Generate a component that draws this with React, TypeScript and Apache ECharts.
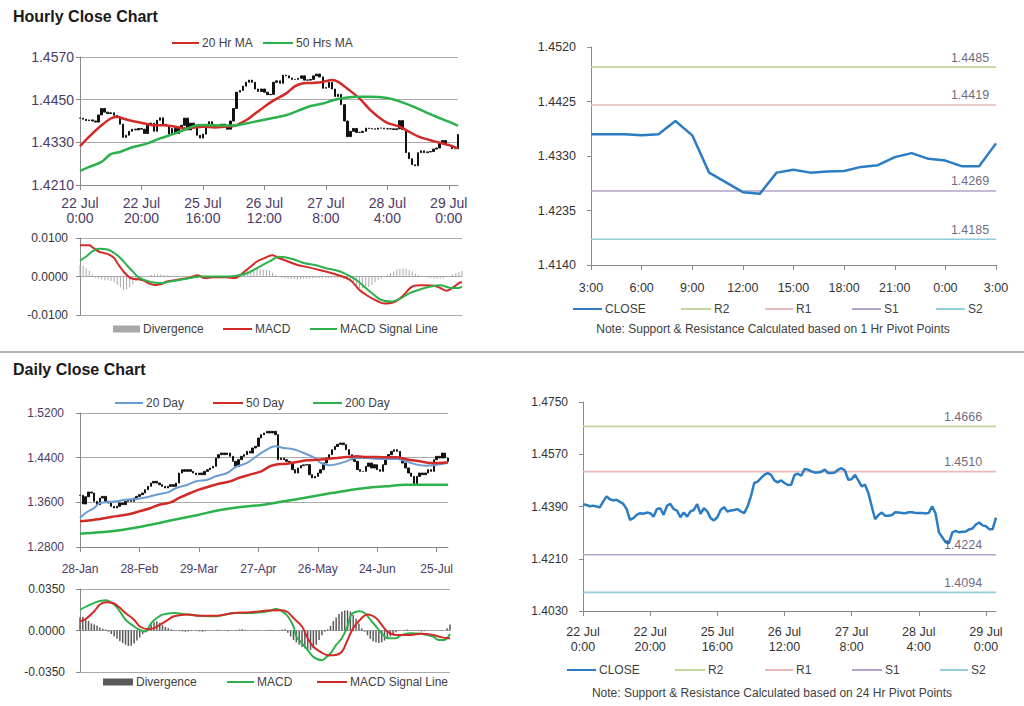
import React, { useEffect, useRef } from "react";
import * as echarts from "echarts";

const FONT = "'Liberation Sans', Arial, sans-serif";

// ---------------- Hourly data (22 Jul 0:00 .. 29 Jul 3:00, trading hours) ----------------
const hourlyTickLabels = ["22 Jul\n0:00", "22 Jul\n20:00", "25 Jul\n16:00", "26 Jul\n12:00", "27 Jul\n8:00", "28 Jul\n4:00", "29 Jul\n0:00"];
const hourlyTickStep = 20;

const hourlyClose = [
  1.4398, 1.4395, 1.4391, 1.4393, 1.4390, 1.4387, 1.4407, 1.4425, 1.4415, 1.4411,
  1.4413, 1.4406, 1.4399, 1.4381, 1.4344, 1.4350, 1.4361, 1.4367, 1.4365, 1.4369,
  1.4367, 1.4355, 1.4381, 1.4384, 1.4361, 1.4392, 1.4399, 1.4381, 1.4376, 1.4353,
  1.4369, 1.4355, 1.4373, 1.4378, 1.4398, 1.4365, 1.4384, 1.4373, 1.4350, 1.4342,
  1.4353, 1.4378, 1.4388, 1.4373, 1.4376, 1.4378, 1.4381, 1.4373, 1.4367, 1.4390,
  1.4425, 1.4471, 1.4476, 1.4488, 1.4499, 1.4505, 1.4499, 1.4480, 1.4473, 1.4480,
  1.4471, 1.4464, 1.4465, 1.4499, 1.4503, 1.4496, 1.4519, 1.4517, 1.4511, 1.4507,
  1.4507, 1.4510, 1.4517, 1.4505, 1.4505, 1.4507, 1.4517, 1.4522, 1.4514, 1.4482,
  1.4484, 1.4499, 1.4480, 1.4459, 1.4465, 1.4436, 1.4390, 1.4346, 1.4361, 1.4369,
  1.4358, 1.4358, 1.4361, 1.4370, 1.4369, 1.4368, 1.4367, 1.4370, 1.4370, 1.4368,
  1.4368, 1.4368, 1.4366, 1.4368, 1.4391, 1.4366, 1.4301, 1.4284, 1.4267, 1.4264,
  1.4301, 1.4306, 1.4301, 1.4303, 1.4304, 1.4311, 1.4314, 1.4328, 1.4335, 1.4325,
  1.4322, 1.4312, 1.4312, 1.4352,
];

const hourlyMA20 = [
  [0, 1.4319], [3, 1.4346], [7, 1.4378], [10, 1.4397], [12, 1.4402], [14, 1.4397], [17, 1.4390], [21, 1.4383],
  [24, 1.4378], [27, 1.4378], [31, 1.4374], [34, 1.4369], [37, 1.4372], [40, 1.4374], [44, 1.4372], [47, 1.4374],
  [50, 1.4376], [54, 1.4392], [57, 1.4411], [60, 1.4430], [63, 1.4448], [67, 1.4467], [70, 1.4488], [72, 1.4495],
  [75, 1.4497], [79, 1.4500], [82, 1.4505], [84, 1.4500], [87, 1.4481], [91, 1.4453], [94, 1.4425], [97, 1.4402],
  [100, 1.4385], [104, 1.4374], [107, 1.4360], [110, 1.4347], [114, 1.4336], [117, 1.4329], [120, 1.4322], [123, 1.4313],
];
const hourlyMA50 = [
  [0, 1.4250], [3, 1.4261], [7, 1.4275], [10, 1.4297], [13, 1.4303], [17, 1.4316], [22, 1.4327], [26, 1.4341],
  [31, 1.4355], [35, 1.4369], [38, 1.4378], [41, 1.4379], [46, 1.4377], [50, 1.4377], [54, 1.4383], [58, 1.4390],
  [62, 1.4397], [67, 1.4406], [71, 1.4419], [75, 1.4432], [79, 1.4439], [83, 1.4450], [87, 1.4456], [90, 1.4458],
  [94, 1.4458], [100, 1.4455], [103, 1.4448], [106, 1.4439], [110, 1.4425], [113, 1.4413], [116, 1.4402], [120, 1.4388], [123, 1.4376],
];
const hourlyMacd = [
  [0, 0.0081], [3, 0.0081], [4, 0.0076], [6, 0.0065], [9, 0.0058], [11, 0.0048], [12, 0.0035], [14, 0.0013],
  [16, -0.0003], [17, -0.0006], [20, -0.0009], [22, -0.0017], [24, -0.0022], [26, -0.0020], [28, -0.0013], [31, -0.0009],
  [35, -0.0004], [38, 0.0003], [40, -0.0004], [43, -0.0002], [47, -0.0002], [50, -0.0004], [51, 0.0000], [53, 0.0013],
  [55, 0.0026], [57, 0.0039], [60, 0.0050], [62, 0.0055], [64, 0.0048], [67, 0.0039], [70, 0.0030], [74, 0.0023],
  [77, 0.0017], [80, 0.0011], [83, 0.0004], [87, -0.0009], [90, -0.0035], [93, -0.0052], [96, -0.0065], [98, -0.0070],
  [101, -0.0067], [104, -0.0050], [107, -0.0026], [110, -0.0023], [114, -0.0024], [116, -0.0030], [118, -0.0037],
  [120, -0.0029], [122, -0.0017], [123, -0.0015],
];
const hourlySignal = [
  [0, 0.0041], [2, 0.0052], [4, 0.0065], [6, 0.0072], [9, 0.0070], [11, 0.0061], [13, 0.0048], [15, 0.0030],
  [17, 0.0013], [19, -0.0003], [23, -0.0015], [26, -0.0017], [29, -0.0013], [32, -0.0009], [36, -0.0003], [39, 0.0000],
  [43, 0.0000], [48, 0.0000], [51, 0.0003], [54, 0.0009], [57, 0.0022], [61, 0.0039], [64, 0.0051], [66, 0.0050],
  [69, 0.0044], [72, 0.0035], [76, 0.0029], [79, 0.0022], [82, 0.0017], [85, 0.0009], [89, -0.0009], [92, -0.0030],
  [95, -0.0050], [97, -0.0061], [100, -0.0065], [103, -0.0058], [106, -0.0044], [109, -0.0035], [113, -0.0026],
  [116, -0.0023], [119, -0.0029], [122, -0.0030], [123, -0.0026],
];
const hourlyDivergence = [
  0.0030, 0.0028, 0.0022, 0.0015, 0.0005, -0.0003, -0.0005, -0.0008, -0.0010,
  -0.0010, -0.0012, -0.0015, -0.0022, -0.0028, -0.0035, -0.0033, -0.0028, -0.0020, -0.0012, -0.0005,
  -0.0002, 0.0000, 0.0002, 0.0004, 0.0006, 0.0006, 0.0005, 0.0004, 0.0003,
  0.0002, 0.0001, 0.0000, -0.0001, -0.0002, -0.0001, 0.0000, 0.0001, 0.0001, 0.0000, -0.0001,
  -0.0001, 0.0000, 0.0000, -0.0001, -0.0001, 0.0000, 0.0000, 0.0001, 0.0001, 0.0002,
  0.0003, 0.0006, 0.0010, 0.0014, 0.0016, 0.0018, 0.0019, 0.0020, 0.0019, 0.0018, 0.0017, 0.0015, 0.0010, 0.0004, 0.0001,
  -0.0003, -0.0005, -0.0006, -0.0007, -0.0007, -0.0008, -0.0007, -0.0006, -0.0006, -0.0005, -0.0005,
  -0.0004, -0.0004, -0.0005, -0.0004, -0.0004, -0.0003, -0.0003, -0.0004, -0.0005, -0.0007,
  -0.0010, -0.0014, -0.0020, -0.0025, -0.0030, -0.0031, -0.0030, -0.0027, -0.0022, -0.0015, -0.0010, -0.0005, 0.0000,
  0.0004, 0.0009, 0.0013, 0.0018, 0.0020, 0.0021, 0.0020, 0.0017, 0.0013, 0.0008, 0.0004, 0.0002,
  -0.0001, -0.0003, -0.0004, -0.0005, -0.0006, -0.0005, -0.0004, -0.0002, 0.0001,
  0.0005, 0.0009, 0.0012, 0.0014,
];

// last 24 hours window (28 Jul 3:00 .. 29 Jul 3:00)
const pivotTickLabels = ["3:00", "6:00", "9:00", "12:00", "15:00", "18:00", "21:00", "0:00", "3:00"];
const pivotTickStep = 3;
const pivotWindowStart = 99;

const pivotNames = ["R2", "R1", "S1", "S2"];
const hourlyPivotValues = [1.4485, 1.4419, 1.4269, 1.4185];
const dailyPivotValues = [1.4666, 1.4510, 1.4224, 1.4094];

// ---------------- Daily data (28 Jan .. 29 Jul) ----------------
const dailyTickLabels = ["28-Jan", "28-Feb", "29-Mar", "27-Apr", "26-May", "24-Jun", "25-Jul"];
const dailyTickStep = 21;

const dailyClose = [
  1.3725, 1.3571, 1.3700, 1.3785, 1.3767, 1.3618, 1.3558, 1.3677, 1.3707, 1.3618,
  1.3588, 1.3528, 1.3498, 1.3528, 1.3588, 1.3558, 1.3618, 1.3648, 1.3618, 1.3677,
  1.3707, 1.3737, 1.3767, 1.3827, 1.3886, 1.3946, 1.3976, 1.3946, 1.3916, 1.3886,
  1.3857, 1.3886, 1.3916, 1.3886, 1.3946, 1.4125, 1.4185, 1.4155, 1.4185, 1.4155,
  1.4125, 1.4095, 1.4125, 1.4095, 1.4155, 1.4185, 1.4215, 1.4245, 1.4394, 1.4454,
  1.4483, 1.4454, 1.4483, 1.4424, 1.4334, 1.4245, 1.4364, 1.4424, 1.4454, 1.4513,
  1.4483, 1.4573, 1.4603, 1.4752, 1.4812, 1.4842, 1.4872, 1.4842, 1.4872, 1.4812,
  1.4364, 1.4394, 1.4364, 1.4334, 1.4305, 1.4185, 1.4125, 1.4215, 1.4257, 1.4270,
  1.4275, 1.4095, 1.4036, 1.4065, 1.4125, 1.4185, 1.4305, 1.4394, 1.4454, 1.4543,
  1.4600, 1.4640, 1.4662, 1.4633, 1.4543, 1.4454, 1.4364, 1.4334, 1.4185, 1.4155,
  1.4155, 1.4245, 1.4304, 1.4215, 1.4274, 1.4185, 1.4155, 1.4274, 1.4394, 1.4454,
  1.4513, 1.4543, 1.4513, 1.4364, 1.4304, 1.4215, 1.4125, 1.4065, 1.3916, 1.4065,
  1.4125, 1.4095, 1.4125, 1.4185, 1.4155, 1.4364, 1.4424, 1.4394, 1.4483, 1.4394, 1.4334,
];

const dailyMA20 = [
  [0, 1.3320], [2, 1.3409], [5, 1.3499], [7, 1.3588], [9, 1.3600], [13, 1.3618], [16, 1.3648], [20, 1.3660],
  [24, 1.3696], [27, 1.3737], [31, 1.3779], [34, 1.3857], [38, 1.3916], [41, 1.3976], [45, 1.4006], [48, 1.4066],
  [52, 1.4125], [55, 1.4233], [59, 1.4305], [62, 1.4412], [65, 1.4513], [69, 1.4603], [72, 1.4573], [76, 1.4543],
  [79, 1.4484], [83, 1.4394], [85, 1.4305], [88, 1.4263], [90, 1.4275], [94, 1.4334], [97, 1.4394], [101, 1.4394],
  [104, 1.4382], [108, 1.4376], [112, 1.4376], [115, 1.4334], [119, 1.4275], [122, 1.4257], [126, 1.4275], [130, 1.4305],
];
const dailyMA50 = [
  [0, 1.3260], [4, 1.3278], [7, 1.3302], [11, 1.3337], [14, 1.3361], [18, 1.3397], [21, 1.3439], [25, 1.3499],
  [28, 1.3558], [32, 1.3600], [35, 1.3678], [39, 1.3767], [42, 1.3827], [46, 1.3887], [49, 1.3934], [53, 1.3976],
  [56, 1.4036], [60, 1.4096], [64, 1.4155], [67, 1.4245], [69, 1.4275], [73, 1.4293], [76, 1.4316], [80, 1.4352],
  [84, 1.4364], [87, 1.4376], [91, 1.4394], [94, 1.4412], [98, 1.4424], [101, 1.4412], [105, 1.4412], [108, 1.4406],
  [112, 1.4406], [114, 1.4388], [116, 1.4364], [120, 1.4334], [124, 1.4305], [127, 1.4305], [130, 1.4316],
];
const dailyMA200 = [
  [0, 1.3039], [7, 1.3063], [14, 1.3099], [21, 1.3159], [28, 1.3230], [35, 1.3307], [42, 1.3379], [49, 1.3457],
  [56, 1.3510], [65, 1.3558], [72, 1.3618], [79, 1.3678], [87, 1.3749], [94, 1.3809], [101, 1.3857], [108, 1.3887],
  [115, 1.3916], [122, 1.3916], [130, 1.3916],
];
const dailyMacd = [
  [0, 0.0176], [5, 0.0233], [7, 0.0248], [9, 0.0256], [12, 0.0219], [14, 0.0162], [16, 0.0091], [19, 0.0034],
  [21, 0.0006], [23, -0.0009], [25, 0.0063], [27, 0.0105], [29, 0.0134], [33, 0.0148], [38, 0.0134], [42, 0.0125],
  [48, 0.0120], [54, 0.0148], [59, 0.0148], [64, 0.0154], [66, 0.0162], [69, 0.0182], [71, 0.0162], [73, 0.0120],
  [75, 0.0034], [76, -0.0051], [78, -0.0108], [80, -0.0165], [82, -0.0222], [85, -0.0250], [86, -0.0236], [88, -0.0194],
  [90, -0.0122], [92, -0.0065], [94, 0.0034], [95, 0.0120], [96, 0.0148], [98, 0.0162], [100, 0.0148], [102, 0.0091],
  [104, 0.0034], [106, -0.0023], [108, -0.0065], [111, -0.0065], [113, -0.0037], [116, -0.0023], [120, -0.0028],
  [124, -0.0051], [126, -0.0080], [128, -0.0080], [130, -0.0030],
];
const dailySignal = [
  [0, 0.0077], [2, 0.0097], [5, 0.0162], [7, 0.0219], [9, 0.0239], [12, 0.0228], [14, 0.0191], [16, 0.0148],
  [19, 0.0091], [21, 0.0034], [24, 0.0011], [26, 0.0020], [28, 0.0048], [31, 0.0091], [33, 0.0120], [38, 0.0134],
  [42, 0.0125], [48, 0.0125], [54, 0.0148], [60, 0.0154], [66, 0.0168], [71, 0.0171], [73, 0.0154], [75, 0.0105],
  [78, 0.0034], [80, -0.0065], [82, -0.0137], [85, -0.0188], [87, -0.0208], [89, -0.0208], [92, -0.0179], [94, -0.0080],
  [96, 0.0020], [99, 0.0105], [101, 0.0134], [104, 0.0105], [106, 0.0048], [108, -0.0009], [111, -0.0037], [113, -0.0037],
  [116, -0.0037], [120, -0.0028], [124, -0.0037], [126, -0.0051], [129, -0.0065], [130, -0.0065],
];
const dailyDivergence = [
  0.0110, 0.0115, 0.0095, 0.0080, 0.0060, 0.0050, 0.0040, 0.0025, 0.0015, 0.0008,
  -0.0010, -0.0030, -0.0050, -0.0070, -0.0090, -0.0105, -0.0120, -0.0130, -0.0128, -0.0110, -0.0085, -0.0060, -0.0030, -0.0010,
  0.0020, 0.0050, 0.0070, 0.0075, 0.0065, 0.0045, 0.0030, 0.0020,
  0.0010, 0.0005, 0.0000, -0.0005, -0.0008, -0.0010, -0.0008, -0.0005, 0.0000, -0.0005,
  -0.0008, -0.0010, -0.0006, -0.0003, 0.0000, 0.0003, 0.0005, 0.0003, 0.0000, -0.0004,
  -0.0006, -0.0003, 0.0000, 0.0004, 0.0008, 0.0010, 0.0006, 0.0002, 0.0000, -0.0003,
  -0.0005, -0.0002, 0.0000, 0.0003, 0.0005, 0.0006, 0.0004, 0.0002, 0.0005, 0.0008, 0.0010,
  -0.0020, -0.0050, -0.0080, -0.0100, -0.0120, -0.0140, -0.0150, -0.0160, -0.0165, -0.0150,
  -0.0120, -0.0080, -0.0040, -0.0010, 0.0010, 0.0040, 0.0080, 0.0110, 0.0140, 0.0160,
  0.0170, 0.0170, 0.0160, 0.0130, 0.0100, 0.0060, 0.0020, -0.0010, -0.0040, -0.0070,
  -0.0090, -0.0100, -0.0105, -0.0100, -0.0085, -0.0070, -0.0050, -0.0030, -0.0015,
  -0.0005, 0.0000, 0.0005, 0.0008, 0.0005, 0.0002, -0.0002, -0.0005, -0.0008, -0.0006,
  -0.0003, 0.0000, 0.0003, 0.0002, -0.0002, -0.0004, 0.0000,
  0.0020, 0.0050,
];

// ---------------- styling ----------------
const C = {
  axis: "#8a8a8a",
  grid: "#a9a9a9",
  purpleLabel: "#4d3a66",
  darkLabel: "#333333",
  legendText: "#404040",
  red: "#d12a27",
  green: "#2db14c",
  blue20: "#6a9bd3",
  close: "#2b7cc3",
  divLight: "#a8a8a8",
  divDark: "#5a5a5a",
  pivots: ["#c3d69b", "#e6b9b8", "#b3a2c7", "#93cddd"],
};

const pips = (v: number, base: number) => (v - base) * 10000;

function candleData(closes: number[], base: number) {
  return closes.map((c, i) => {
    const o = i > 0 ? closes[i - 1] : c;
    return [pips(o, base), pips(c, base), pips(Math.min(o, c), base), pips(Math.max(o, c), base)];
  });
}

function catAxis(gridIndex: number, count: number, labels: string[] | null, step: number, o: any = {}) {
  const show = !!labels;
  return {
    type: "category",
    gridIndex,
    boundaryGap: false,
    data: Array.from({ length: count }, (_, i) => String(i)),
    axisLine: { show, onZero: false, lineStyle: { color: C.axis, width: 1 } },
    axisTick: { show, interval: step - 1, length: 5, lineStyle: { color: C.axis } },
    axisLabel: {
      show,
      interval: step - 1,
      formatter: (_v: string, i: number) => (labels ? labels[Math.round(i / step)] ?? "" : ""),
      color: o.color ?? C.darkLabel,
      fontSize: o.fontSize ?? 12,
      fontFamily: FONT,
      margin: o.margin ?? 12,
      lineHeight: o.lineHeight ?? 15,
    },
    splitLine: { show: false },
  };
}

function valAxis(gridIndex: number, base: number, spanPips: number, intervalPips: number, o: any = {}) {
  return {
    type: "value",
    gridIndex,
    min: o.min ?? 0,
    max: spanPips,
    interval: intervalPips,
    axisLine: { show: true, lineStyle: { color: C.axis, width: 1 } },
    axisTick: { show: true, length: 4, lineStyle: { color: C.axis } },
    axisLabel: {
      formatter: (v: number) => (base + v / 10000).toFixed(4),
      color: o.color ?? C.darkLabel,
      fontSize: o.fontSize ?? 12,
      fontFamily: FONT,
      margin: o.margin ?? 10,
    },
    splitLine: { show: !!o.split, lineStyle: { color: C.grid, width: 1 } },
  };
}

type LegendItem = { x: number; w: number; label: string; color: string; box?: boolean };
function legend(y: number, items: LegendItem[]) {
  const out: any[] = [];
  items.forEach((it) => {
    out.push(
      it.box
        ? { type: "rect", shape: { x: it.x, y: y - 3.5, width: it.w, height: 7 }, style: { fill: it.color } }
        : { type: "line", shape: { x1: it.x, y1: y, x2: it.x + it.w, y2: y }, style: { stroke: it.color, lineWidth: 2 } }
    );
    out.push({
      type: "text",
      x: it.x + it.w + 3,
      y,
      style: { text: it.label, fill: C.legendText, font: `12px ${FONT}`, verticalAlign: "middle", align: "left" },
    });
  });
  return out;
}

function App() {
  const ref = useRef<HTMLDivElement>(null);

  useEffect(() => {
    if (!ref.current) return;
    const chart = echarts.init(ref.current, null, { renderer: "svg" });

    const hN = hourlyClose.length;
    const dN = dailyClose.length;
    const pClose = hourlyClose.slice(pivotWindowStart);
    const pN = pClose.length;

    const hBase = 1.421, dBase = 1.28, pBase = 1.414, p2Base = 1.403;

    const lineSeries = (name: string, x: number, data: number[][], base: number, color: string, width: number, scale = 1) => ({
      name,
      type: "line",
      xAxisIndex: x,
      yAxisIndex: x,
      data: data.map(([i, v]) => [i, base === 0 ? v * 10000 * scale : pips(v, base)]),
      symbol: "none",
      smooth: 0.35,
      lineStyle: { color, width },
      itemStyle: { color },
      silent: true,
      z: 3,
    });

    const pivotSeries = (grid: number, values: number[], count: number, base: number, labelDx: number) => {
      const s: any[] = values.map((v, k) => ({
        name: pivotNames[k] + "-" + grid,
        type: "line",
        xAxisIndex: grid,
        yAxisIndex: grid,
        data: Array.from({ length: count }, () => pips(v, base)),
        symbol: "none",
        lineStyle: { color: C.pivots[k], width: 1.6 },
        itemStyle: { color: C.pivots[k] },
        silent: true,
        z: 2,
      }));
      s.push({
        type: "scatter",
        xAxisIndex: grid,
        yAxisIndex: grid,
        symbolSize: 0,
        silent: true,
        clip: false,
        data: values.map((v) => [count - 1, pips(v, base)]),
        label: {
          show: true,
          position: "top",
          distance: 3,
          offset: [labelDx, 0],
          formatter: (p: any) => values[p.dataIndex].toFixed(4),
          color: "#4a3f5c",
          fontSize: 12.5,
          fontFamily: FONT,
        },
        z: 4,
      });
      return s;
    };

    const option: any = {
      animation: false,
      backgroundColor: "#ffffff",
      textStyle: { fontFamily: FONT },
      grid: [
        { left: 80, top: 57, width: 378, height: 128 },
        { left: 80, top: 238, width: 382, height: 77 },
        { left: 591, top: 47, width: 405, height: 218 },
        { left: 80, top: 413, width: 368, height: 134 },
        { left: 80, top: 589, width: 370, height: 83 },
        { left: 583, top: 402, width: 413, height: 209 },
      ],
      xAxis: [
        catAxis(0, hN, hourlyTickLabels, hourlyTickStep, { color: C.purpleLabel, fontSize: 14, margin: 10, lineHeight: 15 }),
        catAxis(1, hN, null, hourlyTickStep),
        catAxis(2, pN, pivotTickLabels, pivotTickStep, { color: C.darkLabel, fontSize: 12.5, margin: 15 }),
        catAxis(3, dN, dailyTickLabels, dailyTickStep, { color: C.purpleLabel, fontSize: 12, margin: 14 }),
        catAxis(4, dN, null, dailyTickStep),
        catAxis(5, hN, hourlyTickLabels, hourlyTickStep, { color: C.darkLabel, fontSize: 12.5, margin: 14, lineHeight: 14.5 }),
      ],
      yAxis: [
        valAxis(0, hBase, 360, 120, { color: C.purpleLabel, fontSize: 14, margin: 6, split: true }),
        valAxis(1, 0, 100, 100, { min: -100, color: C.darkLabel, fontSize: 12, margin: 12, split: true }),
        valAxis(2, pBase, 380, 95, { color: C.darkLabel, fontSize: 12.5, margin: 15 }),
        valAxis(3, dBase, 2400, 800, { color: C.purpleLabel, fontSize: 12, margin: 16, split: true }),
        valAxis(4, 0, 350, 350, { min: -350, color: C.darkLabel, fontSize: 12, margin: 15, split: true }),
        valAxis(5, p2Base, 720, 180, { color: C.darkLabel, fontSize: 12, margin: 15 }),
      ],
      series: [
        // Panel 1: hourly candles + MAs
        {
          name: "Hourly",
          type: "candlestick",
          xAxisIndex: 0,
          yAxisIndex: 0,
          data: candleData(hourlyClose, hBase),
          barWidth: 2,
          itemStyle: { color: "#111", color0: "#111", borderColor: "#111", borderColor0: "#111", borderWidth: 1 },
          silent: true,
        },
        lineSeries("20 Hr MA", 0, hourlyMA20, hBase, C.red, 2.5),
        lineSeries("50 Hrs MA", 0, hourlyMA50, hBase, C.green, 2.5),
        // Panel 2: hourly MACD
        {
          name: "Divergence",
          type: "bar",
          xAxisIndex: 1,
          yAxisIndex: 1,
          data: hourlyDivergence.map((v) => v * 10000),
          barWidth: 1,
          itemStyle: { color: C.divLight },
          silent: true,
        },
        lineSeries("MACD", 1, hourlyMacd, 0, C.red, 2),
        lineSeries("MACD Signal Line", 1, hourlySignal, 0, C.green, 2),
        // Panel 3: last 24 hours with pivots
        ...pivotSeries(2, hourlyPivotValues, pN, pBase, -26),
        {
          name: "CLOSE-2",
          type: "line",
          xAxisIndex: 2,
          yAxisIndex: 2,
          data: pClose.map((v) => pips(v, pBase)),
          symbol: "none",
          lineStyle: { color: C.close, width: 2.5 },
          itemStyle: { color: C.close },
          silent: true,
          z: 3,
        },
        // Panel 4: daily candles + MAs
        {
          name: "Daily",
          type: "candlestick",
          xAxisIndex: 3,
          yAxisIndex: 3,
          data: candleData(dailyClose, dBase),
          barWidth: 2,
          itemStyle: { color: "#111", color0: "#111", borderColor: "#111", borderColor0: "#111", borderWidth: 1 },
          silent: true,
        },
        lineSeries("20 Day", 3, dailyMA20, dBase, C.blue20, 2),
        lineSeries("50 Day", 3, dailyMA50, dBase, C.red, 2.5),
        lineSeries("200 Day", 3, dailyMA200, dBase, C.green, 2.5),
        // Panel 5: daily MACD
        {
          name: "Divergence D",
          type: "bar",
          xAxisIndex: 4,
          yAxisIndex: 4,
          data: dailyDivergence.map((v) => v * 10000),
          barWidth: 1.5,
          itemStyle: { color: C.divDark },
          silent: true,
        },
        lineSeries("MACD D", 4, dailyMacd, 0, C.green, 2),
        lineSeries("MACD Signal Line D", 4, dailySignal, 0, C.red, 2),
        // Panel 6: hourly closes with 24h pivots
        ...pivotSeries(5, dailyPivotValues, hN, p2Base, -33),
        {
          name: "CLOSE-5",
          type: "line",
          xAxisIndex: 5,
          yAxisIndex: 5,
          data: hourlyClose.map((v) => pips(v, p2Base)),
          symbol: "none",
          lineStyle: { color: C.close, width: 2.5 },
          itemStyle: { color: C.close },
          silent: true,
          z: 3,
        },
      ],
      graphic: [
        { type: "text", x: 13, y: 16, style: { text: "Hourly Close Chart", font: `bold 16px ${FONT}`, fill: "#1a1a1a", verticalAlign: "middle" } },
        { type: "text", x: 13, y: 369, style: { text: "Daily Close Chart", font: `bold 16px ${FONT}`, fill: "#1a1a1a", verticalAlign: "middle" } },
        { type: "line", shape: { x1: 0, y1: 352, x2: 1024, y2: 352 }, style: { stroke: "#9a9a9a", lineWidth: 1.5 } },
        ...legend(43, [
          { x: 172, w: 27, label: "20 Hr MA", color: C.red },
          { x: 263, w: 30, label: "50 Hrs MA", color: C.green },
        ]),
        ...legend(329, [
          { x: 113, w: 27, label: "Divergence", color: C.divLight, box: true },
          { x: 223, w: 29, label: "MACD", color: C.red },
          { x: 310, w: 27, label: "MACD Signal Line", color: C.green },
        ]),
        ...legend(309, [
          { x: 573, w: 29, label: "CLOSE", color: C.close },
          { x: 681, w: 30, label: "R2", color: C.pivots[0] },
          { x: 765, w: 28, label: "R1", color: C.pivots[1] },
          { x: 852, w: 29, label: "S1", color: C.pivots[2] },
          { x: 936, w: 29, label: "S2", color: C.pivots[3] },
        ]),
        { type: "text", x: 773, y: 329, style: { text: "Note: Support & Resistance Calculated based on 1 Hr Pivot Points", font: `12px ${FONT}`, fill: C.legendText, align: "center", verticalAlign: "middle" } },
        ...legend(403, [
          { x: 115, w: 28, label: "20 Day", color: C.blue20 },
          { x: 213, w: 30, label: "50 Day", color: C.red },
          { x: 313, w: 29, label: "200 Day", color: C.green },
        ]),
        ...legend(682, [
          { x: 103, w: 30, label: "Divergence", color: C.divDark, box: true },
          { x: 227, w: 27, label: "MACD", color: C.green },
          { x: 317, w: 30, label: "MACD Signal Line", color: C.red },
        ]),
        ...legend(670, [
          { x: 567, w: 29, label: "CLOSE", color: C.close },
          { x: 675, w: 30, label: "R2", color: C.pivots[0] },
          { x: 765, w: 28, label: "R1", color: C.pivots[1] },
          { x: 852, w: 30, label: "S1", color: C.pivots[2] },
          { x: 940, w: 28, label: "S2", color: C.pivots[3] },
        ]),
        { type: "text", x: 772, y: 693, style: { text: "Note: Support & Resistance Calculated based on 24 Hr Pivot Points", font: `12px ${FONT}`, fill: C.legendText, align: "center", verticalAlign: "middle" } },
      ],
    };

    chart.setOption(option);
    return () => chart.dispose();
  }, []);

  return (
    <div
      ref={ref}
      style={{ position: "absolute", left: 0, top: 0, width: 1024, height: 706, background: "#fff" }}
    />
  );
}

export default App;
